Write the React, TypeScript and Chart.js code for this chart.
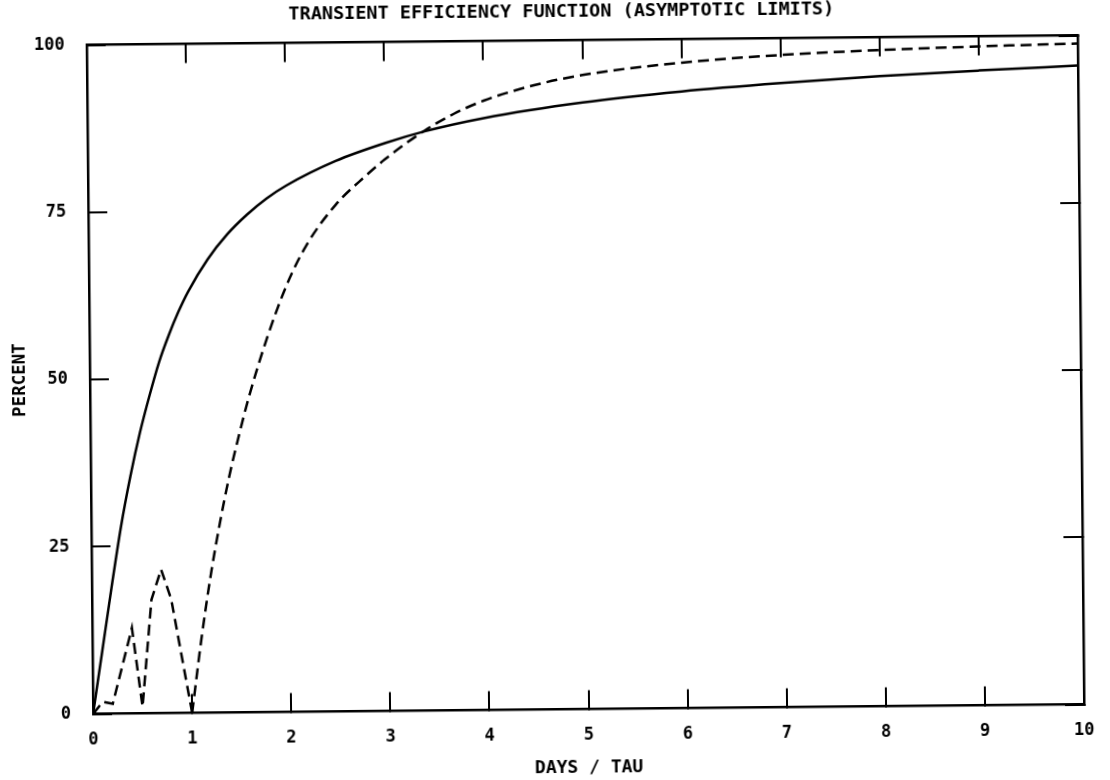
import { useEffect, useRef } from "react";
import { Chart, registerables } from "chart.js";

Chart.register(...registerables);

// Axis ranges and tick spacing
const xMin = 0;
const xMax = 10;
const xStep = 1;
const yMin = 0;
const yMax = 100;
const yStep = 25;

// Solid curve
const solidX = [0, 0.1, 0.2, 0.3, 0.4, 0.5, 0.6, 0.7, 0.8, 0.9, 1.0, 1.2, 1.4, 1.6, 1.8, 2.0, 2.5, 3.0, 3.4, 4, 5, 6, 7, 8, 9, 10];
const solidY = [0, 9.5, 19, 28, 35.5, 42, 47.5, 52.5, 56.5, 60, 63, 67.8, 71.5, 74.4, 76.8, 78.7, 82.3, 84.9, 86.6, 88.5, 90.7, 92.2, 93.3, 94.2, 94.9, 95.5];

// Dashed curve, oscillating start (straight segments)
const dashedStartX = [0, 0.1, 0.2, 0.4, 0.5, 0.6, 0.7, 0.8, 1.0];
const dashedStartY = [0, 1.8, 1.5, 12.8, 1, 17, 21.5, 17, 0];

// Dashed curve, smooth rise
const dashedRiseX = [1.0, 1.1, 1.2, 1.3, 1.4, 1.5, 1.6, 1.8, 2.0, 2.2, 2.5, 2.8, 3.0, 3.4, 3.7, 4.0, 4.5, 5, 6, 7, 8, 9, 10];
const dashedRiseY = [0, 11, 20.5, 28.5, 35.5, 41.5, 47, 56.3, 64, 69.8, 75.8, 80, 82.5, 86.7, 89.2, 91.1, 93.3, 94.8, 96.5, 97.5, 98.1, 98.5, 98.8];

const titleText = "TRANSIENT EFFICIENCY FUNCTION (ASYMPTOTIC LIMITS)";
const xTitle = "DAYS / TAU";
const yTitle = "PERCENT";

const FONT = "'DejaVu Sans Mono', monospace";
const INK = "#000";

const toPoints = (xs: number[], ys: number[]) => xs.map((x, i) => ({ x, y: ys[i] }));

export default function App() {
  const canvasRef = useRef<HTMLCanvasElement | null>(null);

  useEffect(() => {
    const canvas = canvasRef.current;
    if (!canvas) return;

    const grid = {
      drawOnChartArea: false,
      drawTicks: true,
      tickLength: -19,
      color: INK,
      lineWidth: 2,
    };
    const border = { display: true, color: INK, width: 2.5 };
    const line = {
      borderColor: INK,
      borderWidth: 2.5,
      pointRadius: 0,
      fill: false,
    };
    const dash = [11, 6];
    const tickFont = { family: FONT, size: 17, weight: "bold" };

    const chart = new Chart(canvas, {
      type: "line",
      data: {
        datasets: [
          { ...line, data: toPoints(solidX, solidY), cubicInterpolationMode: "monotone" },
          { ...line, data: toPoints(dashedStartX, dashedStartY), borderDash: dash, tension: 0 },
          { ...line, data: toPoints(dashedRiseX, dashedRiseY), borderDash: dash, cubicInterpolationMode: "monotone" },
        ],
      },
      options: {
        animation: false,
        responsive: false,
        events: [],
        layout: { padding: { left: 20, right: 0, top: 0, bottom: 0 } },
        plugins: {
          legend: { display: false },
          tooltip: { enabled: false },
          title: {
            display: true,
            text: titleText,
            color: INK,
            font: { family: FONT, size: 18.5, weight: "bold" },
            padding: { top: 0.9, bottom: 17.4 },
          },
          subtitle: {
            display: true,
            position: "left",
            fullSize: false,
            text: yTitle,
            color: INK,
            font: { family: FONT, size: 17.5, weight: "bold" },
            padding: { top: -10.5, bottom: 4.5 },
          },
        },
        scales: {
          x: {
            type: "linear",
            position: "bottom",
            min: xMin,
            max: xMax,
            ticks: {
              stepSize: xStep,
              color: INK,
              padding: 35.3,
              maxRotation: 0,
              font: tickFont,
            },
            grid,
            border,
            title: {
              display: true,
              text: xTitle,
              color: INK,
              font: { family: FONT, size: 18, weight: "bold" },
              padding: { top: 0, bottom: 1.2 },
            },
            afterFit: (s: any) => {
              s.height = 70.5;
              s.paddingLeft = 0;
              s.paddingRight = 0;
            },
          },
          xTop: {
            type: "linear",
            position: "top",
            min: xMin,
            max: xMax,
            ticks: { stepSize: xStep, display: false },
            grid,
            border,
            afterFit: (s: any) => {
              s.height = 0;
              s.paddingLeft = 0;
              s.paddingRight = 0;
            },
          },
          y: {
            type: "linear",
            position: "left",
            min: yMin,
            max: yMax,
            ticks: {
              stepSize: yStep,
              color: INK,
              crossAlign: "near",
              padding: 41,
              font: tickFont,
            },
            grid,
            border,
            afterFit: (s: any) => {
              s.width = 55;
              s.paddingTop = 0;
              s.paddingBottom = 0;
            },
          },
          yRight: {
            type: "linear",
            position: "right",
            min: yMin,
            max: yMax,
            ticks: { stepSize: yStep, display: false },
            grid,
            border,
            afterFit: (s: any) => {
              s.width = 29;
              s.paddingTop = 0;
              s.paddingBottom = 0;
            },
          },
        },
      } as any,
    });

    return () => chart.destroy();
  }, []);

  return (
    <div
      style={{
        position: "fixed",
        left: 0,
        top: 0,
        width: 1110,
        height: 780,
        background: "#fff",
        transform: "rotate(-0.55deg)",
        transformOrigin: "555px 390px",
      }}
    >
      <canvas ref={canvasRef} width={1110} height={780} style={{ display: "block" }} />
    </div>
  );
}
